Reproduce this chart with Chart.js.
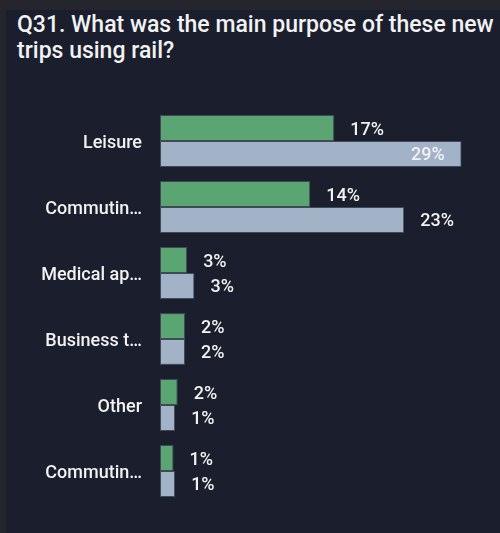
<!DOCTYPE html>
<html>
<head>
<meta charset="utf-8">
<script src="https://cdn.jsdelivr.net/npm/chart.js@4.4.1/dist/chart.umd.min.js"></script>
<style>
  html, body { margin:0; padding:0; width:500px; height:533px; overflow:hidden; background:#25262d; }
  #panel { position:absolute; left:6px; top:10px; width:600px; height:523px; background:#1a1e2d; }
  #title { position:absolute; left:17px; top:12px; width:560px; color:#f2f2f2;
    font-family: Roboto, "Noto Sans", sans-serif; font-weight:500; font-size:23px; line-height:26px; white-space:nowrap; }
  #wrap { position:absolute; left:0; top:0; width:500px; height:533px; }
</style>
</head>
<body>
<div id="panel"></div>
<div id="title">Q31. What was the main purpose of these new<br>trips using rail?</div>
<div id="wrap"><canvas id="c" width="500" height="533"></canvas></div>
<script>
const categories = ["Leisure", "Commutin…", "Medical ap…", "Business t…", "Other", "Commutin…"];
const seriesA = [16.7, 14.4, 2.6, 2.4, 1.7, 1.3];
const seriesB = [28.9, 23.4, 3.3, 2.4, 1.45, 1.45];
const colorA = "#5aa572";
const colorB = "#a2b3c8";

const labelPlugin = {
  id: 'valueLabels',
  afterDatasetsDraw(chart) {
    const ctx = chart.ctx;
    ctx.save();
    ctx.font = '500 18px Roboto, "Noto Sans", sans-serif';
    ctx.fillStyle = '#f2f2f2';
    ctx.textBaseline = 'middle';
    chart.data.datasets.forEach((ds, di) => {
      const meta = chart.getDatasetMeta(di);
      meta.data.forEach((bar, i) => {
        const txt = Math.round(ds.data[i]) + '%';
        const w = ctx.measureText(txt).width;
        let x = bar.x + 16;
        if (x + w > 500 - 4) {
          ctx.textAlign = 'right';
          ctx.fillText(txt, bar.x - 17, bar.y + 2);
        } else {
          ctx.textAlign = 'left';
          ctx.fillText(txt, x, bar.y + 2);
        }
      });
    });
    ctx.restore();
  }
};

new Chart(document.getElementById('c'), {
  type: 'bar',
  data: {
    labels: categories,
    datasets: [
      { data: seriesA, backgroundColor: colorA, borderColor: '#3f4a58', borderWidth: 1, borderSkipped: false,
        categoryPercentage: 0.785, barPercentage: 1 },
      { data: seriesB, backgroundColor: colorB, borderColor: '#3f4a58', borderWidth: 1, borderSkipped: false,
        categoryPercentage: 0.785, barPercentage: 1 }
    ]
  },
  options: {
    indexAxis: 'y',
    responsive: false,
    animation: false,
    layout: { padding: { top: 108, bottom: 29, left: 0, right: 6 } },
    plugins: { legend: { display: false }, tooltip: { enabled: false } },
    scales: {
      x: { display: false, min: 0, max: 32 },
      y: {
        grid: { display: false, drawTicks: false },
        border: { display: false },
        ticks: { color: '#f2f2f2', padding: 18, labelOffset: 2, font: { family: 'Roboto, "Noto Sans", sans-serif', size: 18, weight: 500 } },
        afterFit(scale) { scale.width = 160; }
      }
    }
  },
  plugins: [labelPlugin]
});
</script>
</body>
</html>
